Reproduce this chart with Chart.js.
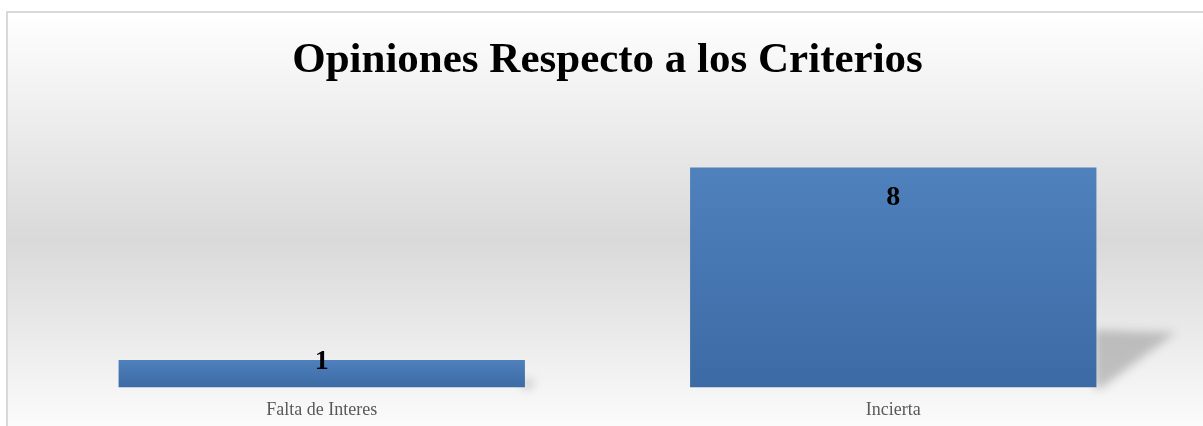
<!DOCTYPE html>
<html>
<head>
<meta charset="utf-8">
<script src="https://cdn.jsdelivr.net/npm/chart.js@4/dist/chart.umd.min.js"></script>
<style>
  html, body { margin: 0; padding: 0; background: #ffffff; }
  #wrap { width: 1203px; height: 426px; }
</style>
</head>
<body>
<div id="wrap"><canvas id="opinionesChart"></canvas></div>
<script>
var categorias = ['Falta de Interes', 'Incierta'];
var valores = [1, 8];
var titulo = 'Opiniones Respecto a los Criterios';

// fondo con degradado gris y borde del área del gráfico
var fondoPlugin = {
    id: 'fondo',
    beforeDraw: function (chart) {
        var ctx = chart.ctx;
        var g = ctx.createLinearGradient(0, 12, 0, 426);
        g.addColorStop(0, '#ffffff');
        g.addColorStop(0.55, '#d9d9d9');
        g.addColorStop(1, '#fbfbfb');
        ctx.save();
        ctx.fillStyle = g;
        ctx.fillRect(7, 12, chart.width, chart.height);
        ctx.strokeStyle = '#d9d9d9';
        ctx.lineWidth = 2;
        ctx.strokeRect(7, 12, chart.width + 10, chart.height + 10);
        ctx.restore();
    }
};

// sombra en perspectiva a la derecha de cada barra
var sombraPlugin = {
    id: 'sombra',
    beforeDatasetsDraw: function (chart) {
        var ctx = chart.ctx;
        var meta = chart.getDatasetMeta(0);
        ctx.save();
        ctx.filter = 'blur(5px)';
        ctx.fillStyle = 'rgba(150,150,150,0.55)';
        meta.data.forEach(function (bar) {
            var h = bar.base - bar.y;
            var right = bar.x + bar.width / 2;
            ctx.beginPath();
            ctx.moveTo(right - 2, bar.base - h * 0.26);
            ctx.lineTo(right + h * 0.36, bar.base - h * 0.25);
            ctx.lineTo(right + 4, bar.base + 1);
            ctx.lineTo(right - 2, bar.base + 1);
            ctx.closePath();
            ctx.fill();
        });
        ctx.restore();
    }
};

// etiquetas de datos dentro del extremo de la barra
var etiquetasPlugin = {
    id: 'etiquetas',
    afterDatasetsDraw: function (chart) {
        var ctx = chart.ctx;
        var meta = chart.getDatasetMeta(0);
        ctx.save();
        ctx.font = 'bold 28px "Liberation Serif", "Times New Roman", serif';
        ctx.fillStyle = '#000000';
        ctx.textAlign = 'center';
        ctx.textBaseline = 'middle';
        meta.data.forEach(function (bar, i) {
            var y = Math.min(bar.y + 30, bar.base - 26);
            ctx.fillText(String(valores[i]), bar.x, y);
        });
        ctx.restore();
    }
};

var ctx = document.getElementById('opinionesChart').getContext('2d');
var opinionesChart = new Chart(ctx, {
    type: 'bar',
    data: {
        labels: categorias,
        datasets: [{
            label: titulo,
            data: valores,
            backgroundColor: function (context) {
                var chart = context.chart;
                var y = chart.scales.y;
                if (!y || !context.parsed) return '#4a7ab7';
                var top = y.getPixelForValue(context.parsed.y);
                var base = y.getPixelForValue(0);
                if (!isFinite(top) || !isFinite(base) || top === base) return '#4a7ab7';
                var g = chart.ctx.createLinearGradient(0, top, 0, base);
                g.addColorStop(0, '#4f81bd');
                g.addColorStop(1, '#3c6aa4');
                return g;
            },
            borderWidth: 0,
            barPercentage: 0.711,
            categoryPercentage: 1
        }]
    },
    plugins: [fondoPlugin, sombraPlugin, etiquetasPlugin],
    options: {
        responsive: true,
        maintainAspectRatio: false,
        animation: false,
        layout: {
            padding: { top: 22, left: 36, right: 24, bottom: -7 }
        },
        plugins: {
            legend: { display: false },
            tooltip: { enabled: false },
            title: {
                display: true,
                text: titulo,
                color: '#000000',
                font: { family: '"Liberation Serif", "Times New Roman", serif', size: 43, weight: 'bold' },
                padding: { top: 13, bottom: 26 }
            }
        },
        scales: {
            x: {
                grid: { display: false, drawTicks: false },
                border: { display: false },
                ticks: {
                    color: '#595959',
                    padding: 12,
                    font: { family: '"Liberation Serif", "Times New Roman", serif', size: 18 }
                }
            },
            y: {
                display: false,
                min: 0,
                max: 10
            }
        }
    }
});
</script>
</body>
</html>
